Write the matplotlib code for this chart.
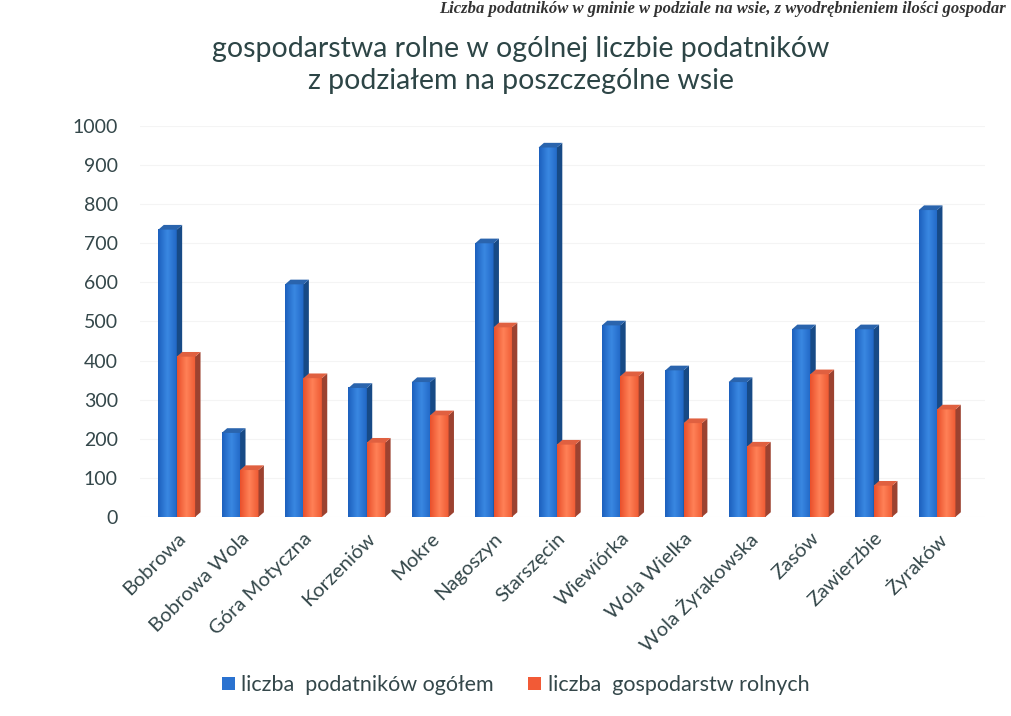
import numpy as np
import matplotlib.pyplot as plt
from matplotlib.patches import Polygon, Patch
from matplotlib.colors import LinearSegmentedColormap

plt.rcParams['font.family'] = ['Lato', 'DejaVu Sans']

# --- dane ---
wsie = ['Bobrowa', 'Bobrowa Wola', 'Góra Motyczna', 'Korzeniów', 'Mokre',
        'Nagoszyn', 'Starszęcin', 'Wiewiórka', 'Wola Wielka', 'Wola Żyrakowska',
        'Zasów', 'Zawierzbie', 'Żyraków']
podatnicy = [735, 215, 595, 330, 345, 700, 945, 490, 375, 345, 480, 480, 785]
gospodarstwa = [410, 120, 355, 190, 260, 485, 185, 360, 240, 180, 365, 80, 275]

y_ticks = list(range(0, 1001, 100))
seria_1 = 'liczba  podatników ogółem'
seria_2 = 'liczba  gospodarstw rolnych'

# --- wygląd ---
blue = dict(front=('#1c60bd', '#3a88e2', '#2167c6'), side='#174a86', top='#2a64ad')
orange = dict(front=('#e94f2b', '#ff8157', '#ee5a33'), side='#9c4230', top='#e06040')
txt_col = '#34474a'

fig = plt.figure(figsize=(10.11, 7.16), dpi=100)
ax = fig.add_axes([0.1385, 0.278, 0.836, 0.546])

w = 0.29       # szerokość słupka
dx = 0.085     # głębokość (x)
dy = 12        # głębokość (y)


def bar3d(x0, h, style):
    cmap = LinearSegmentedColormap.from_list('g', style['front'])
    grad = np.linspace(0, 1, 64).reshape(1, -1)
    ax.imshow(grad, cmap=cmap, aspect='auto', extent=(x0, x0 + w, 0, h),
              zorder=2, interpolation='bilinear')
    ax.add_patch(Polygon([(x0 + w, 0), (x0 + w + dx, dy), (x0 + w + dx, h + dy), (x0 + w, h)],
                         closed=True, fc=style['side'], ec='none', zorder=2, clip_on=False))
    ax.add_patch(Polygon([(x0, h), (x0 + dx, h + dy), (x0 + w + dx, h + dy), (x0 + w, h)],
                         closed=True, fc=style['top'], ec='none', zorder=2, clip_on=False))


x = np.arange(len(wsie))
for i in x:
    bar3d(i - w, podatnicy[i], blue)
    bar3d(i, gospodarstwa[i], orange)

ax.set_xlim(-0.58, 12.76)
ax.set_ylim(0, 1000)
ax.set_yticks(y_ticks)
ax.set_yticklabels([str(v) for v in y_ticks], fontsize=14, color=txt_col)
ax.set_xticks(x)
ax.set_xticklabels(wsie, rotation=45, ha='right', va='top', rotation_mode='anchor',
                   fontsize=14.5, color=txt_col)
ax.tick_params(axis='both', length=0)
ax.tick_params(axis='y', pad=16)
ax.tick_params(axis='x', pad=9)
for s in ax.spines.values():
    s.set_visible(False)
ax.set_axisbelow(True)
ax.grid(axis='y', color='#f4f4f4', lw=0.8)

fig.text(0.515, 0.909, 'gospodarstwa rolne w ogólnej liczbie podatników\nz podziałem na poszczególne wsie',
         ha='center', va='center', fontsize=20.5, color='#2d4546', linespacing=1.3)

# fragment tekstu z zeskanowanej strony nad wykresem
fig.text(0.995, 0.999, 'Liczba podatników w gminie w podziale na wsie, z wyodrębnieniem ilości gospodar',
         ha='right', va='top', fontsize=12, fontstyle='italic', fontweight='bold',
         family='Liberation Serif', color='#333333')

handles = [Patch(fc='#2a72d0', ec='none', label=seria_1),
           Patch(fc='#f25a36', ec='none', label=seria_2)]
fig.legend(handles=handles, loc='center', bbox_to_anchor=(0.51, 0.043), ncol=2, frameon=False,
           fontsize=15.5, handlelength=0.6, handleheight=0.6, handletextpad=0.3,
           columnspacing=1.6, labelcolor=txt_col)

fig.savefig('out.png', dpi=100, facecolor='white')
